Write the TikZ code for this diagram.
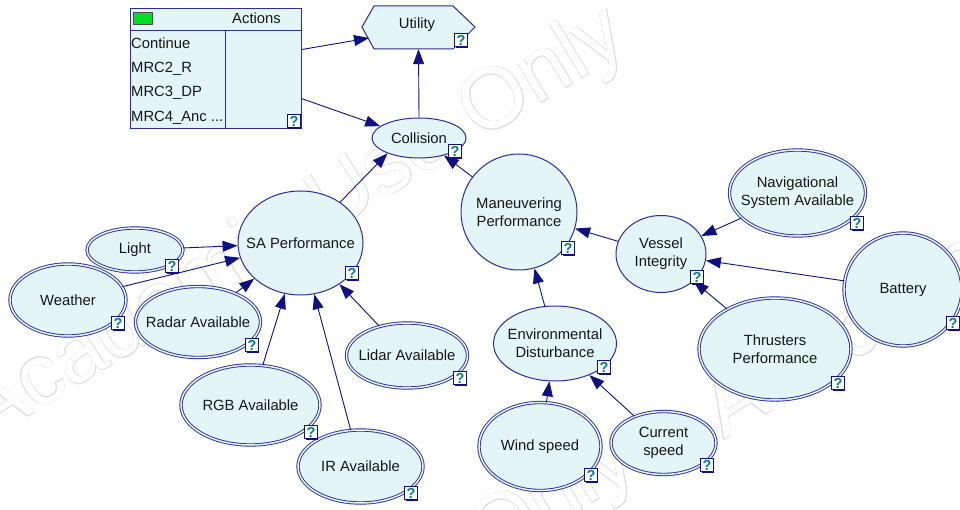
\documentclass[tikz,border=0pt]{standalone}
\usepackage{fontspec}
\setmainfont{Liberation Sans}
\usetikzlibrary{arrows.meta,calc,shapes.geometric,shadows}

\definecolor{nodefill}{RGB}{228,245,247}
\definecolor{nodeline}{RGB}{45,45,150}
\definecolor{arrowcol}{RGB}{16,16,128}
\definecolor{qmark}{RGB}{0,128,128}
\definecolor{wmark}{RGB}{222,222,222}
\definecolor{txt}{RGB}{22,22,22}
\definecolor{flaggreen}{RGB}{0,220,40}

\newcommand\nfont{\fontsize{14.8}{18}\selectfont}
\newcommand\qfont{\fontsize{14.5}{14.5}\selectfont\bfseries}
\newcommand\wmfont{\fontsize{86}{90}\selectfont}
\newcommand\wmtext{Academic Use Only}

\begin{document}
\begin{tikzpicture}[x=1pt,y=-1pt,
  nd/.style={ellipse, fill=nodefill, draw=nodeline, line width=1pt, inner sep=0pt},
  dbl/.style={nd, double=nodefill, double distance=1.5pt, line width=0.9pt},
  every label/.style={font=\nfont, align=center, inner sep=0pt, text=txt},
  arr/.style={draw=arrowcol, line width=0.9pt, -{Triangle[length=15pt,width=11pt]}},
  qbox/.style={draw=arrowcol, line width=0.8pt, fill=white, minimum width=12.5,
    minimum height=13.5, inner sep=0pt, font=\qfont, text=qmark,
    drop shadow={shadow xshift=1.2pt, shadow yshift=-1.2pt, fill=arrowcol, opacity=1}},
  wm/.style={anchor=base west, rotate=31.4, font=\wmfont, inner sep=0pt},
  item/.style={anchor=base west, font=\nfont, text=txt, inner sep=0pt},
]
\useasboundingbox (0,0) rectangle (960,510);
\clip (0,0) rectangle (960,510);
\fill[white] (0,0) rectangle (960,510);

% hollow watermark lettering
\foreach \bx/\by [count=\i] in {-14/442, -4/867, 724/440} {
  \foreach \a in {0,45,...,315}
    \node[wm, text=wmark] (wm\i-\a) at ($(\bx,\by)+(\a:0.55)$) {\wmtext};
  \node[wm, text=white] (wm\i) at (\bx,\by) {\wmtext};
}

% decision node
\node[draw=nodeline, fill=nodefill, line width=1pt, inner sep=0pt,
      minimum width=171, minimum height=120, anchor=north west] (actions) at (130,8) {};
\draw[nodeline, line width=1pt] (130,31) -- (301,31) (225,31) -- (225,128);
\node[draw=black!70, fill=flaggreen, minimum width=19, minimum height=12,
      inner sep=0pt, line width=0.8pt] (actflag) at (142.5,18.5) {};
\node[font=\nfont, text=txt, inner sep=0pt] (acttitle) at (256.5,18.5) {Actions};
\node[item] (a1) at (131,48.3) {Continue};
\node[item] (a2) at (131,72.3) {MRC2\_R};
\node[item] (a3) at (131,96.3) {MRC3\_DP};
\node[item] (a4) at (131,121.3) {MRC4\_Anc ...};

% utility node
\path[fill=nodefill, draw=nodeline, line width=1pt]
  (362,27) -- (374,6) -- (453,6) -- (475,27) -- (453,49) -- (374,49) -- cycle;
\node[minimum width=113, minimum height=43, inner sep=0pt] (utility) at (418.5,27.5) {};
\node[font=\nfont, text=txt, inner sep=0pt] (utiltext) at (417,25) {Utility};
\coordinate (utilIn) at (369,38);

% chance nodes
\node[nd, minimum width=94, minimum height=40, label={center:Collision}] (collision) at (419,138) {};
\node[nd, minimum width=125, minimum height=104, label={center:SA Performance}] (sa) at (300.5,243) {};
\node[nd, minimum width=116, minimum height=116, label={center:Maneuvering\\Performance}] (man) at (519,212) {};
\node[nd, minimum width=90, minimum height=77, label={center:Vessel\\Integrity}] (vessel) at (661,254) {};
\node[nd, minimum width=123, minimum height=75, label={center:Environmental\\Disturbance}] (env) at (555,343.5) {};

\node[dbl, minimum width=96, minimum height=44, label={center:Light}] (light) at (135,250) {};
\node[dbl, minimum width=116, minimum height=72, label={center:Weather}] (weather) at (68,300) {};
\node[dbl, minimum width=125, minimum height=71, label={center:Radar Available}] (radar) at (198,322) {};
\node[dbl, minimum width=139, minimum height=80, label={center:RGB Available}] (rgb) at (250.5,405) {};
\node[dbl, minimum width=125, minimum height=73, label={center:IR Available}] (ir) at (360.5,466.5) {};
\node[dbl, minimum width=121, minimum height=65, label={center:Lidar Available}] (lidar) at (407,355.5) {};
\node[dbl, minimum width=122, minimum height=88, label={center:Wind speed}] (wind) at (540,446.5) {};
\node[dbl, minimum width=105, minimum height=63, label={center:Current\\speed}] (current) at (663.5,443) {};
\node[dbl, minimum width=136, minimum height=86, label={center:Navigational\\System Available}] (nav) at (797.5,193) {};
\node[dbl, minimum width=118, minimum height=113, label={center:Battery}] (battery) at (903,289.5) {};
\node[dbl, minimum width=152, minimum height=102, label={center:Thrusters\\Performance}] (thr) at (775,349) {};

% links
\draw[arr] ($(actions.north east)!0.343!(actions.south east)$) -- (utilIn);
\draw[arr] ($(actions.north east)!0.75!(actions.south east)$) -- (collision.163);
\draw[arr] (collision.north) -- (utility.south);
\draw[arr] (sa) -- (collision.206);
\draw[arr] (man) -- (collision.325);
\draw[arr] (light) -- (sa);
\draw[arr] (weather) -- (sa);
\draw[arr] (radar) -- (sa);
\draw[arr] (rgb) -- (sa);
\draw[arr] (ir) -- (sa);
\draw[arr] (lidar) -- (sa);
\draw[arr] (vessel) -- (man);
\draw[arr] (env) -- (man);
\draw[arr] (wind) -- (env);
\draw[arr] (current) -- (env);
\draw[arr] (nav) -- (vessel);
\draw[arr] (battery) -- (vessel);
\draw[arr] (thr) -- (vessel);

% help markers
\foreach \qx/\qy [count=\k] in {294/121, 461/40, 455/151, 352/273, 568/248, 697/277,
    857/223, 953/323, 838/383, 604/367, 591/475, 707/465, 172/266, 118/323,
    252/345, 311/432, 411/493, 460/378}
  \node[qbox] (q\k) at (\qx,\qy) {?};
\end{tikzpicture}
\end{document}
